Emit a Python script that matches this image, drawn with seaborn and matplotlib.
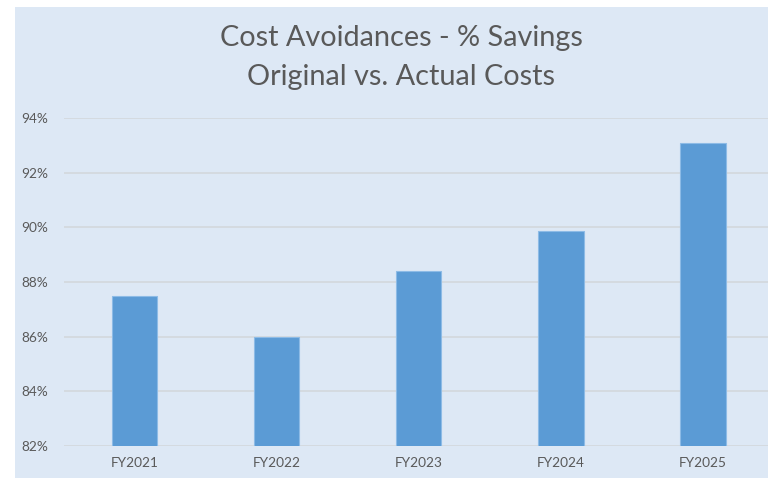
import matplotlib
matplotlib.use("Agg")
import matplotlib.pyplot as plt
import seaborn as sns
import pandas as pd
from matplotlib.ticker import FuncFormatter

# chart data
years = ["FY2021", "FY2022", "FY2023", "FY2024", "FY2025"]
savings = [87.5, 86.0, 88.4, 89.85, 93.1]

data = pd.DataFrame({"year": years, "savings": savings})

sns.set_style("white")
plt.rcParams["font.family"] = ["Lato", "DejaVu Sans"]

W, H = 768, 478
fig = plt.figure(figsize=(W / 100, H / 100), dpi=100, facecolor="white")

# light blue chart panel behind everything
bg_ax = fig.add_axes([15 / W, 0, 1 - 15 / W, 1 - 7 / H], zorder=-1)
bg_ax.set_facecolor("#dde8f5")
bg_ax.set_xticks([])
bg_ax.set_yticks([])
for s in bg_ax.spines.values():
    s.set_visible(False)

ax = fig.add_axes([63.5 / W, (H - 446) / H, (774 - 63.5) / W, (446 - 118) / H])
ax.set_facecolor("none")

sns.barplot(data=data, x="year", y="savings", color="#5b9bd5", width=0.32,
            saturation=1, edgecolor="#8dbbe6", linewidth=0.8, ax=ax, zorder=3)

ax.set_ylim(82, 94)
ax.set_yticks(range(82, 95, 2))
ax.yaxis.set_major_formatter(FuncFormatter(lambda v, p: f"{v:.0f}%"))
ax.grid(axis="y", color="#d4d9de", linewidth=1.3, zorder=0)
ax.set_axisbelow(True)
for s in ax.spines.values():
    s.set_visible(False)
ax.set_xlabel("")
ax.set_ylabel("")
ax.tick_params(axis="both", length=0, labelsize=9.8, labelcolor="#595959")
ax.tick_params(axis="y", pad=11)
ax.tick_params(axis="x", pad=8)

fig.text(401 / W, 1 - 38 / H, "Cost Avoidances - % Savings", ha="center",
         va="center", fontsize=20.8, color="#595959")
fig.text(401 / W, 1 - 77 / H, "Original vs. Actual Costs", ha="center",
         va="center", fontsize=20.8, color="#595959")

fig.savefig("out.png", dpi=100, facecolor="white")
